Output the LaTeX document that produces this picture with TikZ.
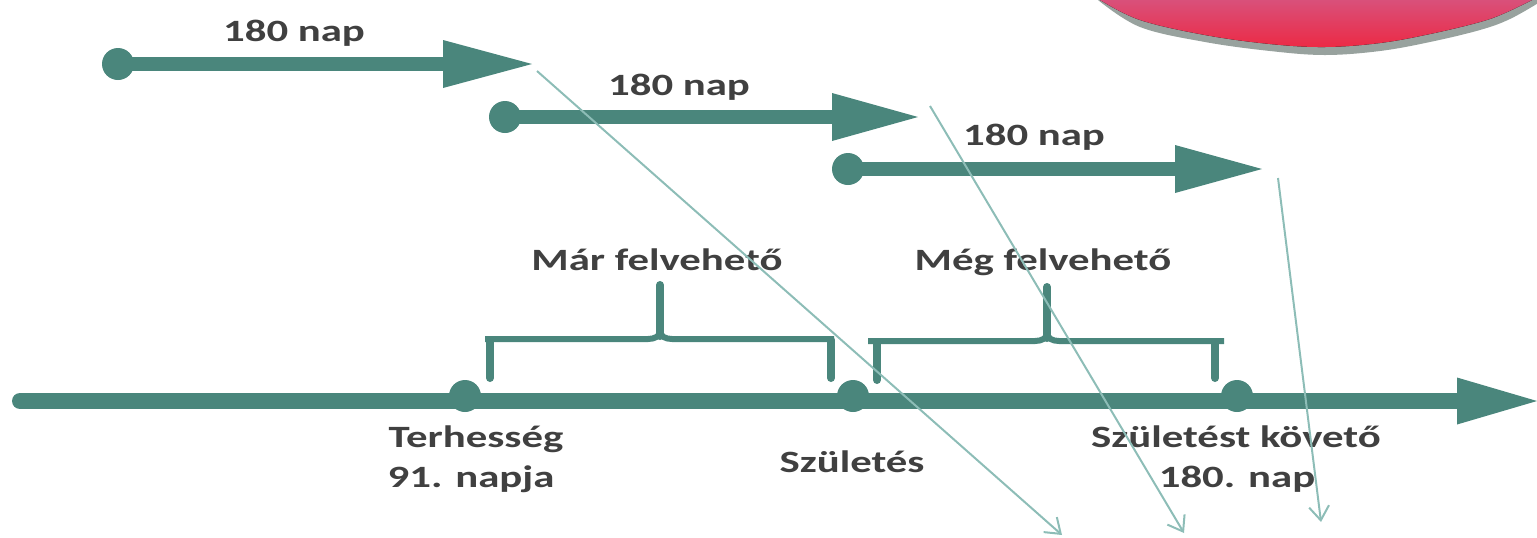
\documentclass[tikz,border=0pt]{standalone}
\usepackage{fontspec}
\usepackage{graphicx}
\setmainfont{Carlito}
\usetikzlibrary{arrows.meta}
\definecolor{teal1}{HTML}{4A867C}
\definecolor{thin1}{HTML}{8DBDB7}
\definecolor{txt1}{HTML}{404040}
\definecolor{redtop}{HTML}{D9507A}
\definecolor{redbot}{HTML}{EC2A45}
\definecolor{shadowgray}{HTML}{98A29E}
\newcommand{\sx}[1]{\scalebox{1.38}[1]{#1}}
\tikzset{
  dotnode/.style={circle,fill=teal1,inner sep=0pt,minimum size=16pt},
  shaft/.style={draw=teal1,line width=7pt},
  axisline/.style={draw=teal1,line width=8pt,line cap=round},
  headfill/.style={fill=teal1},
  bracketline/.style={draw=teal1,line width=3pt},
  legline/.style={draw=teal1,line width=4pt,line cap=round},
  lbl/.style={text=txt1,font=\fontsize{15.5}{19}\selectfont\bfseries,inner sep=0pt,anchor=base},
  thinarrow/.style={draw=thin1,line width=1pt,-{Straight Barb[length=7pt,width=10pt]}}
}
\begin{document}
\begin{tikzpicture}[x=0.5pt,y=-0.5pt]
\useasboundingbox (0,0) rectangle (1537,537);
\clip (0,0) rectangle (1537,537);
% red shape top right
\fill[shadowgray] plot[smooth,tension=0.6] coordinates {(1098,0) (1140,27) (1205,42) (1270,51) (1325,55) (1380,51) (1430,42) (1480,30) (1510,19) (1540,2)} -- (1540,0) -- cycle;
\fill[top color=redtop,bottom color=redbot] plot[smooth,tension=0.6] coordinates {(1100,0) (1140,20) (1205,35) (1270,44) (1325,47) (1380,43) (1430,34) (1480,22) (1505,13) (1532,0)} -- cycle;
% main axis
\coordinate (axL) at (20,401);
\coordinate (axB) at (1457,401);
\coordinate (axT) at (1537,401);
\draw[axisline] (axL) -- (axB);
\fill[headfill] (1457,377.5) -- (axT) -- (1457,424.5) -- cycle;
% axis dots
\node[dotnode] (p1) at (465,396) {};
\node[dotnode] (p2) at (853,396) {};
\node[dotnode] (p3) at (1237,396) {};
% top arrows
\node[dotnode] (d1) at (118,64) {};
\coordinate (b1) at (443,64);
\coordinate (t1) at (532,64);
\draw[shaft] (d1.center) -- (b1);
\fill[headfill] (443,40) -- (t1) -- (443,88) -- cycle;
\node[dotnode] (d2) at (505,117) {};
\coordinate (b2) at (832,117);
\coordinate (t2) at (918,117);
\draw[shaft] (d2.center) -- (b2);
\fill[headfill] (832,93) -- (t2) -- (832,141) -- cycle;
\node[dotnode] (d3) at (848,169) {};
\coordinate (b3) at (1175,169);
\coordinate (t3) at (1262,169);
\draw[shaft] (d3.center) -- (b3);
\fill[headfill] (1175,145) -- (t3) -- (1175,193) -- cycle;
% labels of arrows
\node[lbl] (l1) at (294,41) {\sx{180 nap}};
\node[lbl] (l2) at (679,95) {\sx{180 nap}};
\node[lbl] (l3) at (1034,145) {\sx{180 nap}};
% brackets
\draw[bracketline] (485,339) -- (648,339) .. controls (655,339) and (660,336) .. (660,331) .. controls (660,336) and (665,339) .. (672,339) -- (834,339);
\draw[legline] (660,285) -- (660,336);
\draw[legline] (490,340) -- (490,378);
\draw[legline] (831,340) -- (831,378);
\draw[bracketline] (868,341) -- (1035,341) .. controls (1042,341) and (1047,338) .. (1047,333) .. controls (1047,338) and (1052,341) .. (1059,341) -- (1224,341);
\draw[legline] (1047,287) -- (1047,338);
\draw[legline] (877,342) -- (877,380);
\draw[legline] (1215,342) -- (1215,378);
\node[lbl] (m1) at (657,270) {\sx{Már felvehető}};
\node[lbl] (m2) at (1043,270) {\sx{Még felvehető}};
% axis labels
\node[lbl] (e1a) at (476,447) {\sx{Terhesség}};
\node[lbl] (e1b) at (471,487) {\sx{91. napja}};
\node[lbl] (e2) at (852,472) {\sx{Születés}};
\node[lbl] (e3a) at (1236,447) {\sx{Születést követő}};
\node[lbl] (e3b) at (1237,487) {\sx{180. nap}};
% thin arrows
\coordinate (s1) at (537,71);
\coordinate (f1) at (1062,535);
\coordinate (s2) at (930,106);
\coordinate (f2) at (1184,533);
\coordinate (s3) at (1278,178);
\coordinate (f3) at (1321,522);
\draw[thinarrow] (s1) -- (f1);
\draw[thinarrow] (s2) -- (f2);
\draw[thinarrow] (s3) -- (f3);
\end{tikzpicture}
\end{document}
